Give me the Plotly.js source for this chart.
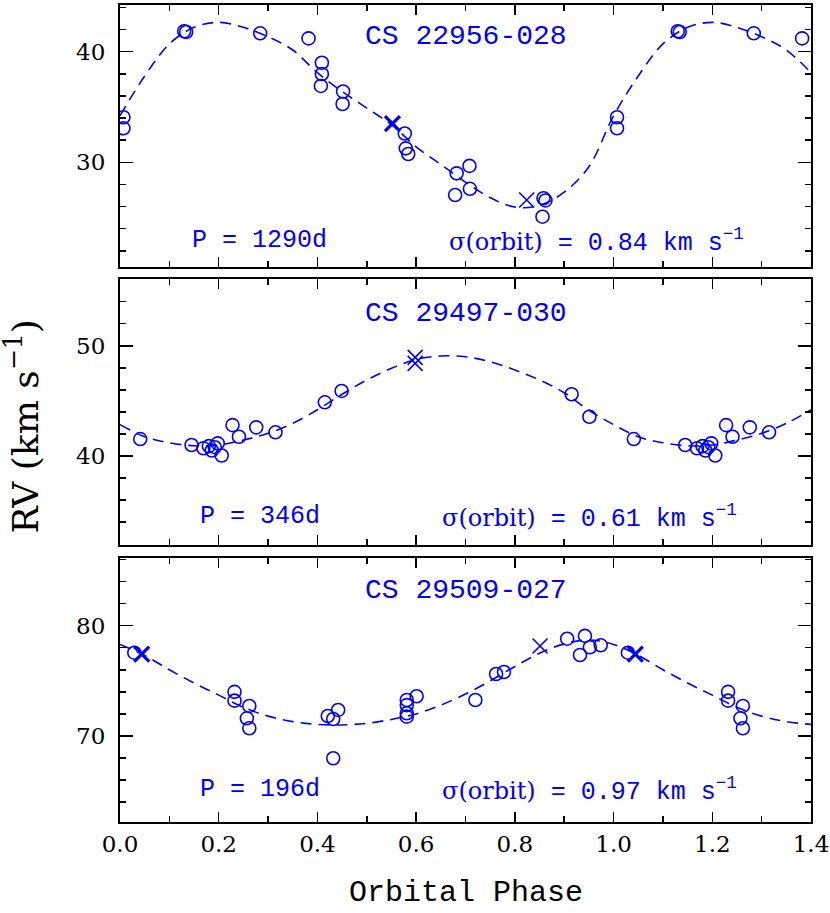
<!DOCTYPE html>
<html>
<head>
<meta charset="utf-8">
<script src="https://cdn.plot.ly/plotly-3.0.1.min.js"></script>
<style>
  html, body { margin: 0; padding: 0; background: #fff; }
  #plotArea { width: 830px; height: 913px; }
</style>
</head>
<body>
<div id="plotArea"></div>
<script>
// Phased radial-velocity curves for three binaries (circles = RV obs, X = other obs, dashed = orbit)

// ------------------ Data ------------------
// CS 22956-028
const p1Phase = [0.007, 0.007, 0.130, 0.134, 0.284, 0.382, 0.409, 0.409, 0.407, 0.452, 0.451,
                 0.577, 0.579, 0.584, 0.682, 0.708, 0.709, 0.679, 0.858, 0.862, 0.856];
const p1RV    = [34.07, 33.07, 41.85, 41.78, 41.66, 41.2, 39.0, 37.98, 36.9, 36.4, 35.27,
                 32.6, 31.26, 30.75, 29.0, 29.67, 27.6, 27.04, 26.75, 26.55, 25.08];
const p1XPhase = [0.552, 0.824];
const p1XRV    = [33.5, 26.59];
const p1XBold  = [true, false];
const p1FitRV  = [34.2, 37.8, 40.7, 42.2, 42.65, 42.2, 41.35, 40.15, 38.1, 36.4,
                  34.9, 33.4, 31.4, 29.8, 28.2, 26.8, 25.95, 26.1, 27.3, 29.6];

// CS 29497-030
const p2Phase = [0.041, 0.145, 0.169, 0.180, 0.186, 0.192, 0.198, 0.206, 0.228, 0.241, 0.276,
                 0.315, 0.415, 0.449, 0.915, 0.951];
const p2RV    = [41.54, 41.0, 40.7, 40.9, 40.5, 40.8, 41.15, 40.05, 42.8, 41.75, 42.6,
                 42.15, 44.87, 45.9, 45.6, 43.56];
const p2XPhase = [0.598, 0.598];
const p2XRV    = [48.95, 48.4];
const p2XBold  = [false, false];
const p2FitRV  = [42.85, 41.75, 41.2, 40.93, 41.0, 41.45, 42.06, 42.96, 44.2, 45.6,
                  46.9, 47.95, 48.77, 49.07, 49.0, 48.55, 47.8, 46.9, 45.74, 44.15];

// CS 29509-027
const p3Phase = [0.029, 0.232, 0.232, 0.262, 0.257, 0.262, 0.421, 0.432, 0.442, 0.432,
                 0.581, 0.581, 0.581, 0.581, 0.601, 0.720, 0.762, 0.778, 0.906, 0.942,
                 0.952, 0.932, 0.974];
const p3RV    = [77.55, 74.0, 73.2, 72.72, 71.6, 70.7, 71.81, 71.54, 72.36, 67.98,
                 73.26, 72.8, 72.06, 71.75, 73.6, 73.26, 75.62, 75.8, 78.82, 79.07,
                 78.04, 77.34, 78.22];
const p3XPhase = [0.044, 0.851];
const p3XRV    = [77.43, 78.16];
const p3XBold  = [true, false];
const p3FitRV  = [78.3, 77.3, 76.0, 74.8, 73.7, 72.6, 71.8, 71.3, 71.05, 71.0,
                  71.15, 71.5, 72.0, 72.8, 73.8, 75.0, 76.3, 77.5, 78.35, 78.7];

// fit curve read at these phases
const fitPhase = [0, 0.05, 0.1, 0.15, 0.2, 0.25, 0.3, 0.35, 0.4, 0.45,
                  0.5, 0.55, 0.6, 0.65, 0.7, 0.75, 0.8, 0.85, 0.9, 0.95];

const stars   = ['CS 22956-028', 'CS 29497-030', 'CS 29509-027'];
const periods = ['1290d', '346d', '196d'];
const sigmas  = ['0.84', '0.61', '0.97'];

const BLUE = 'rgb(0,0,255)';
const PHASE_MAX = 1.4;

// ------------------ Helpers ------------------
// repeat everything with phase < 0.4 one cycle later (phase plot runs 0..1.4)
function wrapPhase(ph, vals, extra) {
  const x = [], y = [], e = [];
  for (let i = 0; i < ph.length; i++) {
    x.push(ph[i]); y.push(vals[i]); if (extra) e.push(extra[i]);
  }
  for (let i = 0; i < ph.length; i++) {
    if (ph[i] + 1 <= PHASE_MAX + 1e-9) {
      x.push(ph[i] + 1); y.push(vals[i]); if (extra) e.push(extra[i]);
    }
  }
  return { x, y, e };
}

function sortByX(o) {
  const idx = o.x.map((v, i) => i).sort((a, b) => o.x[a] - o.x[b]);
  return { x: idx.map(i => o.x[i]), y: idx.map(i => o.y[i]) };
}

function panelTraces(n, ph, rv, xph, xrv, xbold, fitRV) {
  const ax = n === 1 ? '' : String(n);
  const out = [];
  const fit = sortByX(wrapPhase(fitPhase, fitRV));
  out.push({
    x: fit.x, y: fit.y, xaxis: 'x' + ax, yaxis: 'y' + ax,
    mode: 'lines', line: { color: BLUE, width: 1.6, dash: '11px,7px', shape: 'spline', smoothing: 1 },
    hoverinfo: 'skip'
  });
  const pts = wrapPhase(ph, rv);
  out.push({
    x: pts.x, y: pts.y, xaxis: 'x' + ax, yaxis: 'y' + ax,
    mode: 'markers', cliponaxis: true,
    marker: { symbol: 'circle-open', size: 13, color: BLUE, line: { width: 1.6, color: BLUE } }
  });
  const xs = wrapPhase(xph, xrv, xbold);
  out.push({
    x: xs.x, y: xs.y, xaxis: 'x' + ax, yaxis: 'y' + ax,
    mode: 'markers', cliponaxis: true,
    marker: {
      symbol: 'x-thin-open', size: 15, color: BLUE,
      line: { width: xs.e.map(b => b ? 3.2 : 1.6), color: BLUE }
    }
  });
  return out;
}

// ------------------ Axes ------------------
const tickFont = { family: 'DejaVu Serif', size: 23, color: '#000' };

function xAxis(anchor, labels) {
  return {
    anchor: anchor, domain: [0, 1], range: [0, PHASE_MAX],
    tick0: 0, dtick: 0.2, tickformat: '.1f',
    ticks: 'inside', ticklen: 10, tickwidth: 1.5, tickcolor: '#000',
    minor: { dtick: 0.1, ticks: 'inside', ticklen: 6, tickwidth: 1.5, tickcolor: '#000', showgrid: false },
    showline: true, linecolor: '#000', linewidth: 2, mirror: 'allticks',
    showgrid: false, zeroline: false,
    showticklabels: labels, tickfont: tickFont, ticklabelstandoff: 0
  };
}

function yAxis(anchor, domain, range) {
  return {
    anchor: anchor, domain: domain, range: range,
    tick0: 0, dtick: 10,
    ticks: 'inside', ticklen: 13, tickwidth: 1.5, tickcolor: '#000',
    minor: { dtick: 2, ticks: 'inside', ticklen: 6, tickwidth: 1.5, tickcolor: '#000', showgrid: false },
    showline: true, linecolor: '#000', linewidth: 2, mirror: 'allticks',
    showgrid: false, zeroline: false,
    tickfont: tickFont, ticklabelstandoff: 8
  };
}

// ------------------ Annotations ------------------
const monoBig = { family: 'Liberation Mono', size: 28, color: BLUE };
const monoSm  = { family: 'Liberation Mono', size: 25, color: BLUE };

const titleY = [0.9615, 0.6226, 0.2830];
const infoY  = [0.7115, 0.3735, 0.0395];
const sigX   = [0.4727, 0.4631, 0.4631];

const annotations = [];
for (let i = 0; i < 3; i++) {
  annotations.push({
    xref: 'paper', yref: 'paper', x: 0.5, y: titleY[i], xanchor: 'center', yanchor: 'middle',
    text: stars[i], showarrow: false, font: monoBig
  });
  annotations.push({
    xref: 'paper', yref: 'paper', x: 0.2026, y: infoY[i], xanchor: 'center', yanchor: 'middle',
    text: 'P = ' + periods[i], showarrow: false, font: monoSm
  });
  annotations.push({
    xref: 'paper', yref: 'paper', x: sigX[i], y: infoY[i], xanchor: 'left', yanchor: 'middle',
    text: '<span style="font-family:\'DejaVu Serif\';font-size:24px">σ(orbit)</span> = ' + sigmas[i] + ' km s<sup>−1</sup>',
    showarrow: false, font: monoSm
  });
}
// axis titles
annotations.push({
  xref: 'paper', yref: 'paper', x: -0.1404, y: 0.4841, xanchor: 'center', yanchor: 'middle',
  textangle: -90, text: 'RV (km s<sup>−1</sup>)', showarrow: false,
  font: { family: 'DejaVu Serif', size: 36, color: '#000' }
});
annotations.push({
  xref: 'paper', yref: 'paper', x: 0.5, y: -0.087, xanchor: 'center', yanchor: 'middle',
  text: 'Orbital Phase', showarrow: false,
  font: { family: 'Liberation Mono', size: 30, color: '#000' }
});

// ------------------ Plot ------------------
const data = []
  .concat(panelTraces(1, p1Phase, p1RV, p1XPhase, p1XRV, p1XBold, p1FitRV))
  .concat(panelTraces(2, p2Phase, p2RV, p2XPhase, p2XRV, p2XBold, p2FitRV))
  .concat(panelTraces(3, p3Phase, p3RV, p3XPhase, p3XRV, p3XBold, p3FitRV));

const layout = {
  width: 830, height: 913,
  margin: { l: 120, r: 19, t: 5, b: 91 },
  showlegend: false,
  paper_bgcolor: '#fff', plot_bgcolor: '#fff',
  xaxis:  xAxis('y', false),
  xaxis2: xAxis('y2', false),
  xaxis3: xAxis('y3', true),
  yaxis:  yAxis('x',  [0.6793, 1.0],    [20.53, 44.22]),
  yaxis2: yAxis('x2', [0.3394, 0.6646], [31.96, 56.05]),
  yaxis3: yAxis('x3', [0.0, 0.3228],    [62.2, 86.11]),
  annotations: annotations
};

Plotly.newPlot('plotArea', data, layout, { displayModeBar: false, staticPlot: true });
</script>
</body>
</html>
